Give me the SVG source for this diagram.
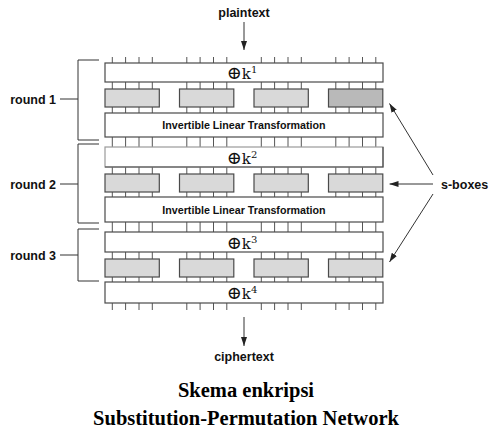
<svg xmlns="http://www.w3.org/2000/svg" width="492" height="434" viewBox="0 0 492 434">
<style>
.box{fill:#fff;stroke:#4a4a4a;stroke-width:1.2}
.sb{fill:#d9d9d9;stroke:#4a4a4a;stroke-width:1.2}
.sbd{fill:#b9b9b9;stroke:#4a4a4a;stroke-width:1.2}
.tick{stroke:#555;stroke-width:1}
.ln{stroke:#333;stroke-width:1;fill:none}
.lbl{font-family:"Liberation Sans",Arial,sans-serif;font-weight:bold;font-size:12.5px;fill:#111}
.ilt{font-family:"Liberation Sans",Arial,sans-serif;font-weight:bold;font-size:10.7px;fill:#111;text-anchor:middle}
.key{font-family:"DejaVu Serif","Liberation Serif",serif;font-size:15px;fill:#111;text-anchor:middle}
.op{font-size:18px}
.title{font-family:"Liberation Serif","Times New Roman",serif;font-weight:bold;font-size:20.5px;fill:#000;text-anchor:middle}
</style>
<defs>
<marker id="ah" markerWidth="9" markerHeight="6" refX="9" refY="3" orient="auto" markerUnits="userSpaceOnUse">
<path d="M0,0 L9,3 L0,6 z" fill="#222"/>
</marker>
</defs>
<g id="connectors">
<g class="tick">
<line x1="112.3" y1="57" x2="112.3" y2="310"/><line x1="125.6" y1="57" x2="125.6" y2="310"/><line x1="139" y1="57" x2="139" y2="310"/><line x1="152.3" y1="57" x2="152.3" y2="310"/>
<line x1="186.8" y1="57" x2="186.8" y2="310"/><line x1="200.1" y1="57" x2="200.1" y2="310"/><line x1="213.5" y1="57" x2="213.5" y2="310"/><line x1="226.8" y1="57" x2="226.8" y2="310"/>
<line x1="261.3" y1="57" x2="261.3" y2="310"/><line x1="274.6" y1="57" x2="274.6" y2="310"/><line x1="288" y1="57" x2="288" y2="310"/><line x1="301.3" y1="57" x2="301.3" y2="310"/>
<line x1="335.8" y1="57" x2="335.8" y2="310"/><line x1="349.1" y1="57" x2="349.1" y2="310"/><line x1="362.5" y1="57" x2="362.5" y2="310"/><line x1="375.8" y1="57" x2="375.8" y2="310"/>
</g>
<line class="ln" x1="244" y1="22" x2="244" y2="50" marker-end="url(#ah)"/>
<line class="ln" x1="244" y1="317" x2="244" y2="346" marker-end="url(#ah)"/>
<path class="ln" d="M99,60 H78 V140 H99 M60,99 H78"/>
<path class="ln" d="M99,144 H78 V223 H99 M60,184 H78"/>
<path class="ln" d="M99,229 H78 V281 H99 M60,255 H78"/>
<line class="ln" x1="433" y1="175" x2="389.5" y2="103.5" marker-end="url(#ah)"/>
<line class="ln" x1="433" y1="184" x2="389.5" y2="184" marker-end="url(#ah)"/>
<line class="ln" x1="433" y1="194" x2="389.5" y2="262" marker-end="url(#ah)"/>
</g>
<g id="k1"><rect class="box" x="105" y="63" width="278" height="19"/><text class="key" x="242" y="78.5"><tspan class="op">⊕</tspan>k<tspan font-size="10" dy="-6">1</tspan></text></g>
<g id="sboxes1">
<rect class="sb" x="105" y="89" width="54.3" height="18"/><rect class="sb" x="179.5" y="89" width="54.3" height="18"/><rect class="sb" x="254" y="89" width="54.3" height="18"/><rect class="sbd" x="328.5" y="89" width="54.3" height="18"/>
</g>
<g id="ilt1"><rect class="box" x="105" y="113" width="278" height="24"/><text class="ilt" x="244" y="129">Invertible Linear Transformation</text></g>
<g id="k2"><rect class="box" x="105" y="147" width="278" height="20" style="stroke:#9a9a9a"/><path class="ln" d="M383,147 V167 H105" style="stroke:#4a4a4a;stroke-width:1.2"/><text class="key" x="242" y="163.5"><tspan class="op">⊕</tspan>k<tspan font-size="10" dy="-6">2</tspan></text></g>
<g id="sboxes2">
<rect class="sb" x="105" y="174" width="54.3" height="18"/><rect class="sb" x="179.5" y="174" width="54.3" height="18"/><rect class="sb" x="254" y="174" width="54.3" height="18"/><rect class="sb" x="328.5" y="174" width="54.3" height="18"/>
</g>
<g id="ilt2"><rect class="box" x="105" y="197" width="278" height="25"/><text class="ilt" x="244" y="213.5">Invertible Linear Transformation</text></g>
<g id="k3"><rect class="box" x="105" y="232" width="278" height="20"/><text class="key" x="242" y="248.5"><tspan class="op">⊕</tspan>k<tspan font-size="10" dy="-6">3</tspan></text></g>
<g id="sboxes3">
<rect class="sb" x="105" y="259" width="54.3" height="18"/><rect class="sb" x="179.5" y="259" width="54.3" height="18"/><rect class="sb" x="254" y="259" width="54.3" height="18"/><rect class="sb" x="328.5" y="259" width="54.3" height="18"/>
</g>
<g id="k4"><rect class="box" x="105" y="282" width="278" height="21"/><text class="key" x="242" y="299"><tspan class="op">⊕</tspan>k<tspan font-size="10" dy="-6">4</tspan></text></g>
<g id="labels">
<text class="lbl" x="244" y="17" text-anchor="middle">plaintext</text>
<text class="lbl" x="244" y="361" text-anchor="middle">ciphertext</text>
<text class="lbl" x="56" y="103.5" text-anchor="end">round 1</text>
<text class="lbl" x="56" y="188.5" text-anchor="end">round 2</text>
<text class="lbl" x="56" y="259.5" text-anchor="end">round 3</text>
<text class="lbl" x="441" y="188.5">s-boxes</text>
</g>
<g id="title">
<text class="title" x="246" y="397">Skema enkripsi</text>
<text class="title" x="246" y="425">Substitution-Permutation Network</text>
</g>
</svg>
